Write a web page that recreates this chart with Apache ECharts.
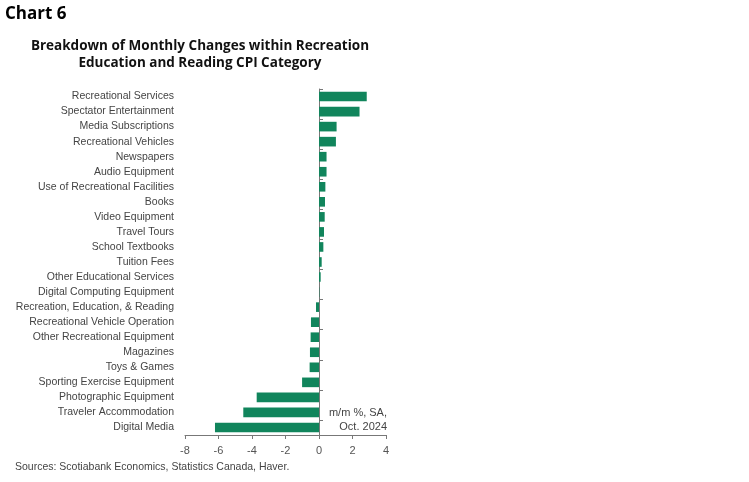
<!DOCTYPE html>
<html><head><meta charset="utf-8">
<script src="https://cdn.jsdelivr.net/npm/echarts@6/dist/echarts.min.js"></script>
<style>html,body{margin:0;padding:0;background:#fff}#c{width:749px;height:482px}</style>
</head><body><div id="c"></div>
<script>
const categories = ["Recreational Services","Spectator Entertainment","Media Subscriptions","Recreational Vehicles","Newspapers","Audio Equipment","Use of Recreational Facilities","Books","Video Equipment","Travel Tours","School Textbooks","Tuition Fees","Other Educational Services","Digital Computing Equipment","Recreation, Education, & Reading","Recreational Vehicle Operation","Other Recreational Equipment","Magazines","Toys & Games","Sporting Exercise Equipment","Photographic Equipment","Traveler Accommodation","Digital Media"];
const values = [2.85,2.42,1.05,1.01,0.45,0.45,0.38,0.36,0.34,0.30,0.26,0.16,0.10,0.02,-0.18,-0.48,-0.50,-0.54,-0.56,-1.01,-3.72,-4.52,-6.21];
const xTicks = [-8,-6,-4,-2,0,2,4];
</script>
<script>
const chart = echarts.init(document.getElementById('c'), null, {renderer:'canvas'});
const font = 'Liberation Sans';
chart.setOption({
  animation:false,
  backgroundColor:'#fff',
  grid:{left:185,right:363,top:89,bottom:47,containLabel:false},
  xAxis:{type:'value',min:xTicks[0],max:xTicks[xTicks.length-1],interval:2,
    axisLine:{show:true,onZero:false,lineStyle:{color:'#777',width:1}},
    axisTick:{show:true,length:4,lineStyle:{color:'#777'}},
    splitLine:{show:false},
    axisLabel:{color:'#555',fontSize:11,fontFamily:font,margin:10}},
  yAxis:[
    {type:'category',data:categories,inverse:true,position:'left',
     axisLine:{show:false,onZero:false},axisTick:{show:false},
     axisLabel:{color:'#444',fontSize:10.5,fontFamily:font,margin:11,padding:[3,0,0,0]}},
    {type:'category',data:categories,inverse:true,position:'left',
     axisLine:{show:true,onZero:true,lineStyle:{color:'#777',width:1}},
     axisTick:{show:true,inside:true,length:4,lineStyle:{color:'#777'}},
     axisLabel:{show:false}}
  ],
  series:[{type:'bar',yAxisIndex:0,data:values,barCategoryGap:'36%',
    itemStyle:{color:'#11855c'}}],
  graphic:[
    {type:'text',left:5,top:6,style:{text:'Chart 6',font:'bold 17px "Open Sans"',fill:'#000'}},
    {type:'text',x:200,y:46,style:{text:'Breakdown of Monthly Changes within Recreation',font:'bold 13.5px "Open Sans"',fill:'#111',align:'center',verticalAlign:'middle'}},
    {type:'text',x:200,y:63,style:{text:'Education and Reading CPI Category',font:'bold 13.5px "Open Sans"',fill:'#111',align:'center',verticalAlign:'middle'}},
    {type:'text',x:387,y:413,style:{text:'m/m %, SA,',font:'11px "Liberation Sans"',fill:'#444',align:'right',verticalAlign:'middle'}},
    {type:'text',x:387,y:427,style:{text:'Oct. 2024',font:'11px "Liberation Sans"',fill:'#444',align:'right',verticalAlign:'middle'}},
    {type:'text',x:15,y:467,style:{text:'Sources: Scotiabank Economics, Statistics Canada, Haver.',font:'10.5px "Liberation Sans"',fill:'#444',verticalAlign:'middle'}}
  ]
});
</script></body></html>
